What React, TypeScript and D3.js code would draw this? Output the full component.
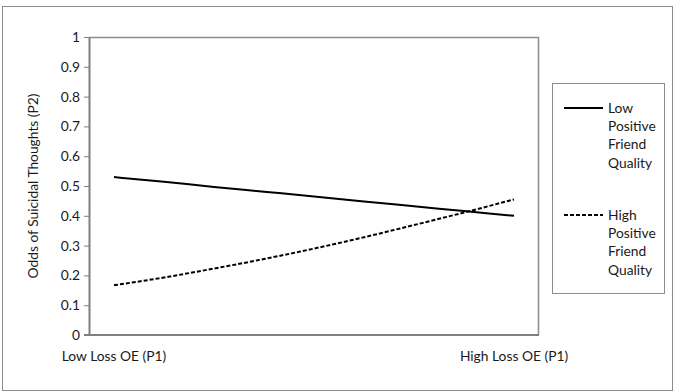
import React, { useEffect, useRef } from 'react';
import * as d3 from 'd3';

// x positions along Loss OE (P1), only the ends are labelled
const xSteps = [0, 1, 2, 3, 4, 5, 6, 7, 8];
const xLabels = ['Low Loss OE (P1)', '', '', '', '', '', '', '', 'High Loss OE (P1)'];
const lowFriend = [0.53, 0.514, 0.497, 0.481, 0.465, 0.448, 0.432, 0.416, 0.4];
const highFriend = [0.167, 0.193, 0.223, 0.255, 0.29, 0.328, 0.369, 0.411, 0.455];
const yTicks = [0, 0.1, 0.2, 0.3, 0.4, 0.5, 0.6, 0.7, 0.8, 0.9, 1];
const seriesNames = [['Low', 'Positive', 'Friend', 'Quality'], ['High', 'Positive', 'Friend', 'Quality']];

const FONT = 'Lato, "Open Sans", sans-serif';
const FS = '13.8px';

export default function App() {
  const svgRef = useRef<SVGSVGElement>(null);

  useEffect(() => {
    if (!svgRef.current) return;
    const root = d3.select(svgRef.current);
    root.selectAll('*').remove();

    const left = 89, right = 539, top = 37, bottom = 335;

    // outer chart border
    root.append('rect')
      .attr('x', 2.5).attr('y', 6.5)
      .attr('width', 670).attr('height', 384)
      .attr('fill', 'white')
      .attr('stroke', '#8c8c8c');

    const x = d3.scaleBand<number>()
      .domain(xSteps)
      .range([left, right]);
    const xc = (i: number) => x(i)! + x.bandwidth() / 2;

    const y = d3.scaleLinear().domain([0, 1]).range([bottom, top]);

    // plot area border (top + right)
    root.append('path')
      .attr('d', `M${left},${top + 0.5}H${right - 0.5}V${bottom}`)
      .attr('fill', 'none')
      .attr('stroke', '#8c8c8c')
      .attr('stroke-width', 1.5);

    // y axis
    const yAxis = root.append('g')
      .attr('transform', `translate(${left},0)`)
      .call(d3.axisLeft(y).tickValues(yTicks).tickSize(5).tickSizeOuter(0).tickFormat(d3.format('~g')));
    yAxis.select('.domain').attr('stroke', '#7f7f7f').attr('stroke-width', 2);
    yAxis.selectAll('.tick line').attr('stroke', '#7f7f7f');
    yAxis.selectAll('text')
      .attr('x', -9)
      .style('font-family', FONT)
      .style('font-size', FS)
      .attr('fill', '#1a1a1a');

    // x axis line
    root.append('line')
      .attr('x1', left - 5).attr('x2', right)
      .attr('y1', bottom).attr('y2', bottom)
      .attr('stroke', '#7f7f7f')
      .attr('stroke-width', 2);

    // x labels
    root.append('g')
      .selectAll('text')
      .data(xSteps)
      .enter()
      .append('text')
      .attr('x', d => xc(d))
      .attr('y', 361)
      .attr('text-anchor', 'middle')
      .style('font-family', FONT)
      .style('font-size', FS)
      .attr('fill', '#1a1a1a')
      .text(d => xLabels[d]);

    // y axis title
    root.append('text')
      .attr('transform', `translate(38,${(top + bottom) / 2}) rotate(-90)`)
      .attr('text-anchor', 'middle')
      .style('font-family', FONT)
      .style('font-size', FS)
      .attr('fill', '#1a1a1a')
      .text('Odds of Suicidal Thoughts (P2)');

    const line = d3.line<number>()
      .x((_, i) => xc(xSteps[i]))
      .y(d => y(d))
      .curve(d3.curveMonotoneX);

    root.append('path')
      .datum(lowFriend)
      .attr('fill', 'none')
      .attr('stroke', '#000')
      .attr('stroke-width', 2)
      .attr('d', line);

    root.append('path')
      .datum(highFriend)
      .attr('fill', 'none')
      .attr('stroke', '#000')
      .attr('stroke-width', 2)
      .attr('stroke-dasharray', '4,2')
      .attr('d', line);

    // legend
    root.append('rect')
      .attr('x', 552.5).attr('y', 83.5)
      .attr('width', 112).attr('height', 210)
      .attr('fill', 'white')
      .attr('stroke', '#8c8c8c');

    const legendY = [108, 215];
    seriesNames.forEach((names, s) => {
      root.append('line')
        .attr('x1', 564).attr('x2', 603)
        .attr('y1', legendY[s]).attr('y2', legendY[s])
        .attr('stroke', '#000')
        .attr('stroke-width', 2)
        .attr('stroke-dasharray', s === 1 ? '4,2' : null);
      names.forEach((n, j) => {
        root.append('text')
          .attr('x', 608)
          .attr('y', legendY[s] + j * 18.3)
          .attr('dy', '0.35em')
          .style('font-family', FONT)
          .style('font-size', FS)
          .attr('fill', '#1a1a1a')
          .text(n);
      });
    });
  }, []);

  return (
    <div style={{ position: 'absolute', left: 0, top: 0 }}>
      <svg ref={svgRef} width={675} height={392} style={{ display: 'block' }} />
    </div>
  );
}
